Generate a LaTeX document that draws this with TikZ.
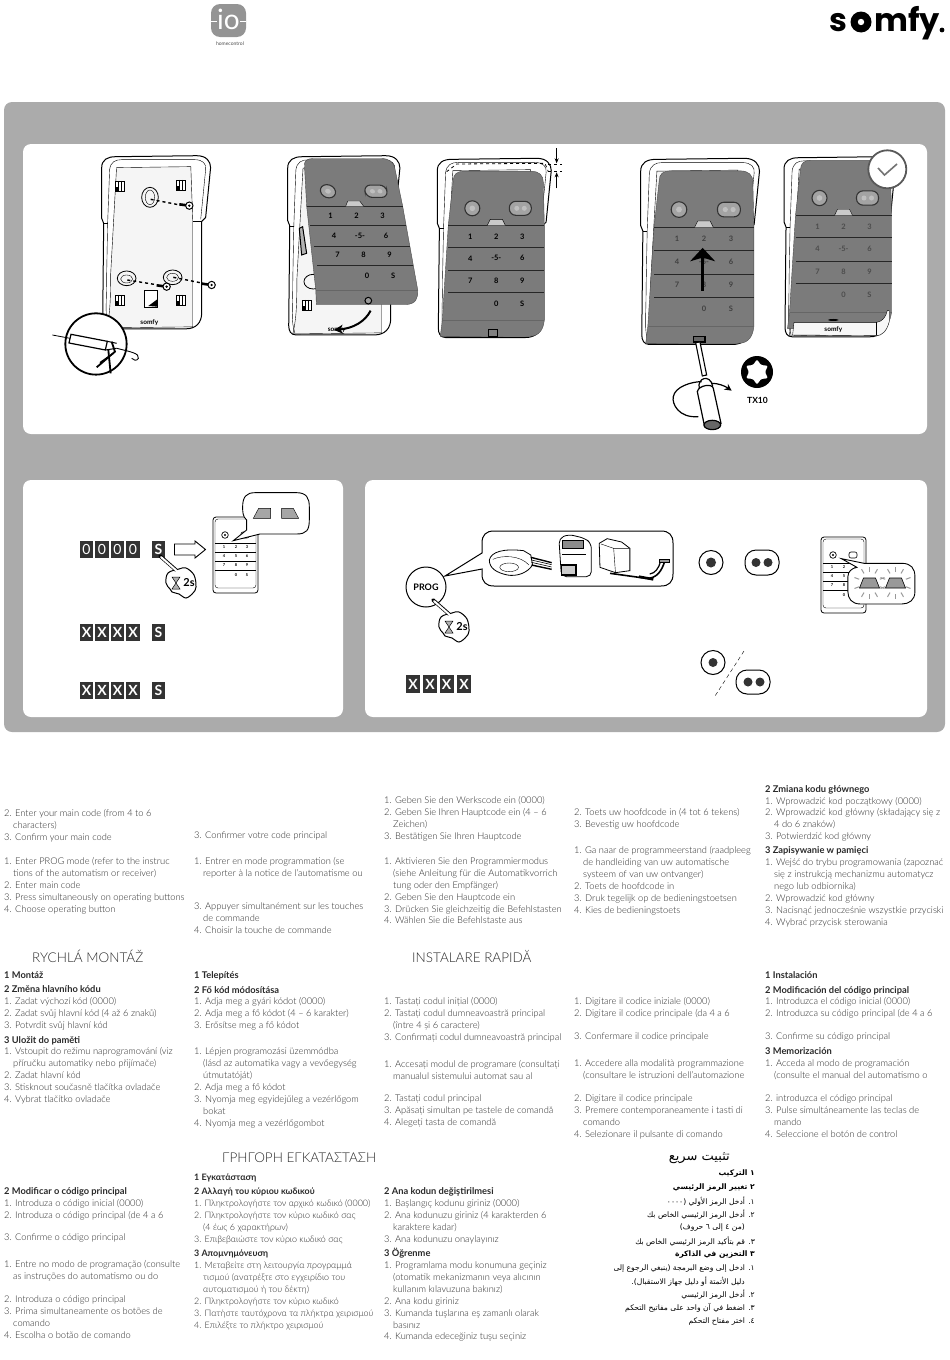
\documentclass[tikz,border=0pt]{standalone}
\usepackage{fontspec}
\usepackage{xcolor}
\setmainfont{Lato}[UprightFont=* Light,BoldFont=* Bold]
\newfontfamily\plainfont{Lato}
\newfontfamily\logofont{Poppins}
\newfontfamily\arabicfont[Script=Arabic]{DejaVu Sans}
\TeXXeTstate=1
\usetikzlibrary{arrows.meta,positioning,shapes.geometric}
\definecolor{framegray}{HTML}{ABABAB}
\definecolor{padgray}{HTML}{7B7B7B}
\definecolor{capblack}{HTML}{333333}
\definecolor{bodytext}{HTML}{2A2A2A}
\newcommand{\hg}{\hspace*{9pt}}
\newcommand{\ar}[1]{\beginR #1\endR}

\tikzset{
  txt/.style={anchor=north west,inner sep=0pt,yshift=-1pt,align=left,text=bodytext,
    font=\fontsize{9.3}{11.9}\selectfont},
  ttl/.style={anchor=west,inner sep=0pt,text=bodytext,font=\fontsize{13.5}{15}\selectfont},
  artxt/.style={anchor=east,inner sep=0pt,text=black,font=\arabicfont\fontsize{7.6}{9}\selectfont},
  keycap/.style={fill=capblack,text=white,inner sep=0pt,minimum width=13.5pt,minimum height=17pt,
    font=\plainfont\bfseries\fontsize{14}{14}\selectfont},
  zoomsix/.style={shift={(20,140)},x=.3333pt,y=-.3333pt},
  zoomseven/.style={shift={(430,140)},x=.3333pt,y=-.3333pt},
  zoomeight/.style={shift={(20,480)},x=.3333pt,y=-.3333pt},
  zoomnine/.style={shift={(365,480)},x=.36036pt,y=-.3333pt},
  pics/lug/.style={code={
    \draw[thick,fill=white] (-14,-15) rectangle (14,15);
    \draw (-5,-15) -- (-5,15) (5,-15) -- (5,15);
    \fill (-14,4) rectangle (-5,15);
  }},
  pics/housing/.style={code={
    \draw[line width=1pt,fill=white] (0,12) .. controls (0,4) and (6,1) .. (14,1) -- (96,0)
      .. controls (106,0) and (110,6) .. (110,12) -- (105,62) -- (101,66) -- (101,158)
      .. controls (101,168) and (95,174) .. (85,174) -- (8,174)
      .. controls (3,174) and (1,170) .. (1,165) -- (2,68) -- (0,63) -- cycle;
    \draw[fill=black!4] (15,12) -- (90,11) -- (92,66) -- (92,172) -- (5,173)
      .. controls (8,160) and (9,150) .. (9,120) -- cycle;
    \draw (7,172) .. controls (3,160) and (5,150) .. (5,120) -- (6,68) -- (8,14)
      .. controls (9,6) and (14,4) .. (20,4) -- (94,4) .. controls (102,4) and (106,8) .. (105,14) -- (100,64);
    \draw (92,66) -- (101,66) (2,68) -- (6,68);
  }},
  pics/keypad/.style={code={
    \fill[padgray,draw=black!70] (16,22) .. controls (16,16) and (20,13) .. (26,13) -- (94,13)
      .. controls (102,13) and (106,17) .. (106,24) -- (107,67) -- (107,162)
      .. controls (106,170) and (103,178) .. (92,178) -- (3,178) -- (5,162) -- (11,67) -- cycle;
    \foreach \rowy in {67,89,112,134} \draw[line width=1.1pt,black!85] (11,\rowy) -- (107,\rowy);
    \draw[black!60] (5,162) -- (107,162);
    \draw[line width=1.1pt,black!80,fill=padgray!70] (35,50) circle (7.5);
    \fill[white!75!black] (35,50) circle (2.8);
    \draw[line width=1.1pt,black!80,fill=padgray!70,rounded corners=6.5pt] (72,43) rectangle (94,57);
    \fill[white!75!black] (79.5,50) circle (2.5) (87,50) circle (2.5);
    \draw[fill=padgray!40] (50,67) -- (53,61) -- (65,61) -- (68,67);
    \foreach \keyx/\keyy/\keyt in {33/78/1,59/78/2,85/78/3,33/100/4,59/100/{-5-},85/100/6,
        33/122/7,59/122/8,85/122/9,59/145/0,85/145/S}
      \node[text=#1,inner sep=0pt,font=\plainfont\bfseries\fontsize{7.5}{8}\selectfont] (k\keyt) at (\keyx,\keyy) {\keyt};
  }},
  pics/minidev/.style={code={
    \draw[line width=.8pt,fill=white,rounded corners=3pt] (0,0) rectangle (45,76);
    \draw[rounded corners=3pt] (2,2) rectangle (43,71);
    \draw[line width=.7pt] (12,18) circle (3.3);
    \fill (12,18) circle (1.1);
    \draw[line width=.6pt,rounded corners=2pt] (28,15) rectangle (36,21);
    \foreach \rowy in {26,35,44,53} \draw[line width=.7pt] (2,\rowy) -- (43,\rowy);
    \foreach \keyx/\keyy/\keyt in {11/30/1,23/30/2,34/30/3,11/39/4,23/39/5,34/39/6,11/48/7,23/48/8,34/48/9,23/58/0,34/58/S}
      \node[inner sep=0pt,font=\plainfont\bfseries\fontsize{4}{4}\selectfont] (m\keyt) at (\keyx,\keyy) {\keyt};
  }},
  pics/holdhand/.style={code={
    \draw[line width=1pt,fill=white] plot[smooth cycle,tension=.6] coordinates {(8,17) (6,27) (10,33) (12,36) (19,38)
      (26,42) (33,37) (36,31) (34,19) (26,12) (19,13)};
    \draw[line width=3.6pt,line cap=round] (0,0) -- (16,14);
    \draw[line width=2pt,white,line cap=round] (1,1) -- (18,16);
    \draw[fill=black!30,line width=.5pt] (12,21) -- (20,21) -- (12,33) -- (20,33) -- cycle;
    \node[inner sep=0pt,font=\plainfont\bfseries\fontsize{11}{11}\selectfont] (twos) at (29,27) {2s};
  }},
  pics/flashtrap/.style={code={
    \foreach \ang in {20,60,90,120,160,200,240,270,300,340}
      \draw[line width=1pt,black!40] (\ang:11) -- (\ang:16);
    \draw[fill=black!40,line width=.6pt] (-10,5) -- (-6,-5) -- (6,-5) -- (10,5) -- cycle;
  }}
}

\begin{document}
\begin{tikzpicture}[x=1pt,y=-1pt]
\useasboundingbox (0,0) rectangle (950,1360);

% logos
\fill[black!42,rounded corners=9pt] (211,4) rectangle (246,37);
\node[text=white,inner sep=0pt,font=\plainfont\fontsize{28}{28}\selectfont] (iomark) at (228.5,19) {io};
\draw[white] (211,21) -- (217,21) (240,21) -- (246,21);
\node[inner sep=0pt,text=black!70,font=\plainfont\fontsize{5}{5}\selectfont] (homectl) at (230,44) {homecontrol};
\node[anchor=base west,inner sep=0pt,font=\logofont\bfseries\fontsize{32}{32}\selectfont] (somfys) at (829,31.5) {s};
\fill (861,22) circle (10.5);
\fill[white] (861,22) circle (3.2);
\node[anchor=base west,inner sep=0pt,font=\logofont\bfseries\fontsize{32}{32}\selectfont] (somfyt) at (874,31.5) {mfy};
\fill (942,30) circle (2.4);

% panels
\fill[framegray,rounded corners=8pt] (4,102) rectangle (945,732);
\fill[white,rounded corners=8pt] (23,144) rectangle (927,434);
\fill[white,rounded corners=8pt] (23,480) rectangle (343,717);
\fill[white,rounded corners=8pt] (365,480) rectangle (927,717);

% wall plate
\pic[xscale=.99,yscale=.995] at (101.7,155.7) {housing};
\begin{scope}[zoomsix]
  \foreach \lugx/\lugy in {300/138,482/135,300/480,482/480}
    \pic at (\lugx,\lugy) {lug};
  \draw[thick] (390,172) ellipse (25 and 30) (320,415) ellipse (28 and 22) (458,412) ellipse (28 and 22);
  \draw (390,172) ellipse (14 and 22) (320,417) ellipse (18 and 12) (458,412) ellipse (18 and 12);
  \draw[line width=1.4pt,dashed] (392,178) -- (480,195);
  \draw[line width=1.4pt,dashed] (322,420) -- (415,435);
  \draw[line width=1.4pt,dashed] (460,412) -- (550,430);
  \foreach \scrx/\scry in {508/197,440/440,575/435}{
    \draw[line width=2.6pt] (\scrx-30,\scry-4) -- (\scrx,\scry);
    \draw[line width=1pt,fill=white] (\scrx,\scry) circle (11);
    \fill (\scrx,\scry) circle (4);
  }
  \draw[fill=white] (373,452) rectangle (413,503);
  \fill (385,498) -- (412,478) -- (412,500) -- cycle;
  \node[inner sep=0pt,font=\plainfont\bfseries\fontsize{6.5}{7}\selectfont] (plateso) at (388,548) {somfy};
  % sealant gun
  \draw[line width=1.8pt,fill=white] (228,612) circle (92);
  \draw[line width=.8pt] (97,585) -- (150,595);
  \draw[line width=1.2pt,fill=white] (153,583) -- (262,604) -- (256,630) -- (147,609) -- cycle;
  \draw[line width=1pt] (262,604) -- (290,610) (256,630) -- (290,625);
  \draw[line width=1.8pt] (275,605) -- (285,635) -- (230,682);
  \draw[line width=1.8pt] (265,630) -- (272,700);
  \draw[line width=1.4pt] (280,640) -- (240,668);
  \draw[line width=.9pt] (290,625) .. controls (330,635) and (360,640) .. (355,655) .. controls (350,665) and (340,660) .. (335,655);
\end{scope}

% tilted keypad
\pic[xscale=1.02,yscale=1.03] at (287.7,155.7) {housing};
\begin{scope}[zoomsix]
  \pic at (860,495) {lug};
  \draw[thick] (880,425) ellipse (28 and 22);
  \draw[line width=1pt,fill=black!30] (848,260) -- (860,340) -- (845,345) -- (838,265) -- cycle;
  \node[inner sep=0pt,font=\plainfont\bfseries\fontsize{6.5}{7}\selectfont] (tiltso) at (950,568) {somfy};
\end{scope}
\pic[xslant=-.18,yscale=.885] at (285,147) {keypad=black};
\begin{scope}[zoomsix]
  \draw[line width=1pt,fill=black!40] (1045,482) circle (10);
  \draw[line width=2pt,-{Stealth[length=9pt,width=9pt]}] (1052,512) .. controls (1035,545) and (1000,565) .. (942,570);
\end{scope}

% seated keypad with gap marks
\pic[xscale=1.036,yscale=1.03] at (437.3,158.3) {housing};
\pic at (437.3,158.3) {keypad=black};
\begin{scope}[zoomseven]
  \draw[line width=.8pt,dashed] (50,95) -- (80,72) -- (345,70) -- (355,95);
  \draw[line width=.7pt,dashed] (355,72) -- (396,72) (355,95) -- (396,95);
  \draw[line width=1pt,-{Stealth[length=5pt,width=4pt]}] (380,25) -- (380,70);
  \draw[line width=1pt,-{Stealth[length=5pt,width=4pt]}] (380,145) -- (380,97);
  \draw[line width=1.4pt,fill=black!50] (175,568) rectangle (202,590);
\end{scope}

% screw tightening
\pic[xscale=1.08,yscale=1.07] at (640.7,158.3) {housing};
\pic[xscale=1.04,yscale=1.045] at (642.6,157.3) {keypad={black!75}};
\begin{scope}[zoomseven]
  \draw[line width=3.4pt,white] (818,452) -- (818,345);
  \draw[line width=3pt] (818,452) -- (818,345);
  \draw[line width=2pt,fill=black] (790,358) -- (818,328) -- (846,358) -- (826,352) -- (810,352) -- cycle;
  \draw[line width=1.2pt,fill=black!60] (790,590) rectangle (825,606);
  \draw[line width=1.1pt,fill=white] (797,608) -- (810,606) -- (830,705) -- (817,708) -- cycle;
  \draw[line width=1.2pt] (848,738) .. controls (840,700) and (800,715) .. (808,745);
  \draw[line width=1.2pt] (805,830) .. controls (745,835) and (725,790) .. (730,770)
    .. controls (735,740) and (785,725) .. (815,725);
  \draw[line width=1.2pt,fill=white] (802,755) .. controls (806,735) and (848,730) .. (850,745) -- (873,850) -- (824,860) -- cycle;
  \draw[line width=1.2pt,fill=black!60] (847,855) ellipse (25 and 14);
  \draw[line width=1.2pt,-{Stealth[length=7pt,width=7pt]}] (846,730) .. controls (865,730) and (885,738) .. (905,752);
\end{scope}
\fill (757,372) circle (16);
\node[star,star points=6,star point ratio=1.55,fill=white,minimum size=25pt,inner sep=0pt,rounded corners=1.2pt] (torx) at (757,372) {};
\node[inner sep=0pt,font=\plainfont\bfseries\fontsize{8.5}{9}\selectfont] (txten) at (757.5,400) {TX10};

% finished
\pic[xscale=1.01,yscale=1.035] at (784,156.7) {housing};
\pic[xscale=1.0,yscale=1.02] at (784.5,147) {keypad={black!70}};
\begin{scope}[zoomseven]
  \draw[fill=black!3] (1088,585) -- (1092,547) -- (1340,547) .. controls (1358,545) and (1368,530) .. (1372,512)
    -- (1378,512) -- (1378,545) .. controls (1370,575) and (1355,587) .. (1340,587) -- cycle;
  \node[inner sep=0pt,font=\plainfont\bfseries\fontsize{6.5}{7}\selectfont] (doneso) at (1210,568) {somfy};
  \draw (1340,547) -- (1340,585);
  \fill (1210,540) ellipse (16 and 3);
\end{scope}
\draw[line width=1.8pt,fill=white,draw=black!65] (887.3,169.3) circle (19);
\draw[line width=1.6pt,black!55] (878,168) -- (884.5,175) -- (897,164);

% code keys, left panel
\foreach \capx/\capt [count=\capn] in {86.5/0,102/0,117.5/0,133/0}
  \node[keycap,font=\plainfont\fontsize{14}{14}\selectfont] (za\capn) at (\capx,549.5) {\capt};
\node[keycap] (zs) at (158.5,549.5) {S};
\foreach \capx/\capt [count=\capn] in {86.5/X,102/X,117.5/X,133/X,158.5/S}{
  \node[keycap] (xa\capn) at (\capx,632.5) {\capt};
  \node[keycap] (xb\capn) at (\capx,690) {\capt};
}
\pic at (160,556) {holdhand};
\draw[line width=.9pt,fill=white] (174.5,544) -- (195,544) -- (195,541) -- (205.5,549.5) -- (195,558) -- (195,555) -- (174.5,555) -- cycle;
\pic at (213,517) {minidev};
\begin{scope}[zoomeight]
  \draw[line width=.9pt,fill=white] (720,162) -- (640,182) -- (680,150) -- (680,120)
    .. controls (668,110) and (668,95) .. (668,80) .. controls (668,50) and (680,38) .. (705,38)
    -- (830,38) .. controls (860,38) and (868,55) .. (868,80) -- (868,120) .. controls (868,150) and (860,162) .. (830,162) -- cycle;
  \draw[fill=black!35] (700,115) -- (716,85) -- (752,85) -- (752,115) -- cycle;
  \draw[fill=black!35] (785,85) -- (820,85) -- (836,115) -- (785,115) -- cycle;
\end{scope}

% right panel
\draw[line width=1pt,fill=white] (482,569) -- (445,576) -- (482,553) -- (482,543)
  .. controls (482,535) and (486,531) .. (494,531) -- (661,531) .. controls (669,531) and (673,535) .. (673,543)
  -- (673,574) .. controls (673,582) and (669,586) .. (661,586) -- (494,586) .. controls (486,586) and (482,582) .. (482,574) -- cycle;
\begin{scope}[zoomnine]
  % ceiling opener
  \draw[thick,fill=white] (345,240) .. controls (350,215) and (385,205) .. (440,212) -- (460,225) -- (465,255)
    .. controls (450,280) and (420,290) .. (395,285) .. controls (365,278) and (345,265) .. (345,240) -- cycle;
  \draw (400,262) ellipse (26 and 13);
  \draw (355,238) .. controls (380,225) and (430,225) .. (455,255);
  \draw[line width=1.4pt] (460,232) -- (518,248) (462,255) -- (518,268);
  \draw[line width=.6pt] (462,240) -- (518,254) (462,247) -- (518,261);
  % swing motor
  \draw[thick,fill=white,rounded corners=5pt] (538,175) -- (565,163) -- (610,175) -- (628,190) -- (628,290) -- (545,290) -- cycle;
  \draw[thick,fill=black!45] (548,182) rectangle (606,205);
  \draw[line width=1.4pt,fill=black!20] (545,255) rectangle (585,285);
  \draw (548,222) -- (612,222);
  % gate motor
  \draw[thick,fill=white] (650,190) -- (672,176) -- (712,186) -- (735,205) -- (735,272) -- (695,278) -- (652,262) -- cycle;
  \draw (655,192) -- (690,205) -- (732,205) (690,205) -- (695,278);
  \draw[line width=1.6pt] (680,280) -- (780,295) .. controls (810,297) and (825,270) .. (832,242);
  \draw[line width=2.6pt] (760,290) -- (800,298);
  \draw[line width=1.2pt] (790,282) .. controls (805,280) and (815,265) .. (820,245);
  \draw[line width=1pt,fill=black!40] (818,238) rectangle (844,248);
\end{scope}
\node[circle,draw,line width=1pt,fill=white,minimum size=40pt,inner sep=0pt,font=\plainfont\bfseries\fontsize{9}{9}\selectfont] (prog) at (426,587) {PROG};
\pic at (433,600) {holdhand};
\foreach \capx [count=\capn] in {413,430,446.5,464}
  \node[keycap,minimum width=14pt,minimum height=18pt] (xc\capn) at (\capx,684) {X};

% leds
\draw[line width=1pt] (711,562.5) circle (12);
\fill[black!80] (711,562.5) circle (5);
\draw[line width=1pt,rounded corners=11pt] (745,550) rectangle (779,575);
\fill[black!80] (756,562.5) circle (4.5) (768,562.5) circle (4.5);
\draw[line width=1pt] (713,662.5) circle (12);
\fill[black!80] (713,662.5) circle (4.5);
\draw[line width=1pt,rounded corners=11pt] (736,670) rectangle (770,694);
\fill[black!80] (748,682) circle (4.5) (760,682) circle (4.5);
\coordinate (dashtop) at (744,651);
\coordinate (dashbot) at (715,696);
\draw[dash pattern=on 4pt off 3pt] (dashtop) -- (dashbot);

% flashing device
\pic at (821,537) {minidev};
\begin{scope}[zoomnine]
  \draw[line width=.9pt,fill=white] (1365,262) -- (1322,236) -- (1385,250) -- (1490,250)
    .. controls (1515,250) and (1526,265) .. (1526,290) -- (1526,335) .. controls (1526,360) and (1510,372) .. (1490,372)
    -- (1375,372) .. controls (1350,372) and (1340,355) .. (1340,335) -- (1340,290) .. controls (1340,275) and (1350,265) .. (1365,262) -- cycle;
\end{scope}
\pic at (869.5,583) {flashtrap};
\pic at (895.5,583) {flashtrap};

% text, first row
\node[txt] (engb) at (4,808) {2. Enter your main code (from 4 to 6\\ \hg characters)\\3. Confirm your main code};
\node[txt] (engc) at (4,856.5) {1. Enter PROG mode (refer to the instruc\\ \hg tions of the automatism or receiver)\\2. Enter main code\\3. Press simultaneously on operating buttons\\4. Choose operating button};
\node[txt] (frgb) at (194,830.5) {3. Confirmer votre code principal};
\node[txt] (frgc) at (194,856.5) {1. Entrer en mode programmation (se\\ \hg reporter à la notice de l'automatisme ou};
\node[txt] (frgd) at (194,902) {3. Appuyer simultanément sur les touches\\ \hg de commande\\4. Choisir la touche de commande};
\node[txt] (degb) at (384,795.5) {1. Geben Sie den Werkscode ein (0000)\\2. Geben Sie Ihren Hauptcode ein (4 – 6\\ \hg Zeichen)\\3. Bestätigen Sie Ihren Hauptcode};
\node[txt] (degc) at (384,856.5) {1. Aktivieren Sie den Programmiermodus\\ \hg (siehe Anleitung für die Automatikvorrich\\ \hg tung oder den Empfänger)\\2. Geben Sie den Hauptcode ein\\3. Drücken Sie gleichzeitig die Befehlstasten\\4. Wählen Sie die Befehlstaste aus};
\node[txt] (nlgb) at (574,807.5) {2. Toets uw hoofdcode in (4 tot 6 tekens)\\3. Bevestig uw hoofdcode};
\node[txt] (nlgc) at (574,845.5) {1. Ga naar de programmeerstand (raadpleeg\\ \hg de handleiding van uw automatische\\ \hg systeem of van uw ontvanger)\\2. Toets de hoofdcode in\\3. Druk tegelijk op de bedieningstoetsen\\4. Kies de bedieningstoets};
\node[txt] (plgb) at (765,784) {\textbf{2 Zmiana kodu głównego}\\1. Wprowadzić kod początkowy (0000)\\2. Wprowadzić kod główny (składający się z\\ \hg 4 do 6 znaków)\\3. Potwierdzić kod główny};
\node[txt] (plgc) at (765,845.5) {\textbf{3 Zapisywanie w pamięci}\\1. Wejść do trybu programowania (zapoznać\\ \hg się z instrukcją mechanizmu automatycz\\ \hg nego lub odbiornika)\\2. Wprowadzić kod główny\\3. Nacisnąć jednocześnie wszystkie przyciski\\4. Wybrać przycisk sterowania};

% text, second row
\node[ttl] (csttl) at (32,956.5) {RYCHLÁ MONTÁŽ};
\node[ttl] (rottl) at (412,956.5) {INSTALARE RAPIDĂ};
\node[txt] (csga) at (4,970.5) {\textbf{1 Montáž}\\[2.5pt]\textbf{2 Změna hlavního kódu}\\1. Zadat výchozí kód (0000)\\2. Zadat svůj hlavní kód (4 až 6 znaků)\\3. Potvrdit svůj hlavní kód\\[2.5pt]\textbf{3 Uložit do paměti}\\1. Vstoupit do režimu naprogramování (viz\\ \hg příručku automatiky nebo přijímače)\\2. Zadat hlavní kód\\3. Stisknout současně tlačítka ovladače\\4. Vybrat tlačítko ovladače};
\node[txt] (huga) at (194,970.5) {\textbf{1 Telepítés}\\[2.5pt]\textbf{2 Fő kód módosítása}\\1. Adja meg a gyári kódot (0000)\\2. Adja meg a fő kódot (4 – 6 karakter)\\3. Erősítse meg a fő kódot};
\node[txt] (hugb) at (194,1047) {1. Lépjen programozási üzemmódba\\ \hg (lásd az automatika vagy a vevőegység\\ \hg útmutatóját)\\2. Adja meg a fő kódot\\3. Nyomja meg egyidejűleg a vezérlőgom\\ \hg bokat\\4. Nyomja meg a vezérlőgombot};
\node[txt] (roga) at (384,996.5) {1. Tastați codul inițial (0000)\\2. Tastați codul dumneavoastră principal\\ \hg (între 4 și 6 caractere)\\3. Confirmați codul dumneavoastră principal};
\node[txt] (rogb) at (384,1059) {1. Accesați modul de programare (consultați\\ \hg manualul sistemului automat sau al};
\node[txt] (rogc) at (384,1093.5) {2. Tastați codul principal\\3. Apăsați simultan pe tastele de comandă\\4. Alegeți tasta de comandă};
\node[txt] (itga) at (574,996.5) {1. Digitare il codice iniziale (0000)\\2. Digitare il codice principale (da 4 a 6};
\node[txt] (itgb) at (574,1032) {3. Confermare il codice principale};
\node[txt] (itgc) at (574,1059) {1. Accedere alla modalità programmazione\\ \hg (consultare le istruzioni dell'automazione};
\node[txt] (itgd) at (574,1093.5) {2. Digitare il codice principale\\3. Premere contemporaneamente i tasti di\\ \hg comando\\4. Selezionare il pulsante di comando};
\node[txt] (esga) at (765,970.5) {\textbf{1 Instalación}\\[2.5pt]\textbf{2 Modificación del código principal}\\1. Introduzca el código inicial (0000)\\2. Introduzca su código principal (de 4 a 6};
\node[txt] (esgb) at (765,1032) {3. Confirme su código principal\\[2.5pt]\textbf{3 Memorización}\\1. Acceda al modo de programación\\ \hg (consulte el manual del automatismo o};
\node[txt] (esgc) at (765,1093.5) {2. introduzca el código principal\\3. Pulse simultáneamente las teclas de\\ \hg mando\\4. Seleccione el botón de control};

% text, third row
\node[ttl] (elttl) at (222,1158) {ΓΡΗΓΟΡΗ ΕΓΚΑΤΑΣΤΑΣΗ};
\node[txt] (ptga) at (4,1186.5) {\textbf{2 Modificar o código principal}\\1. Introduza o código inicial (0000)\\2. Introduza o código principal (de 4 a 6};
\node[txt] (ptgb) at (4,1232.5) {3. Confirme o código principal};
\node[txt] (ptgc) at (4,1259.5) {1. Entre no modo de programação (consulte\\ \hg as instruções do automatismo ou do};
\node[txt] (ptgd) at (4,1294.5) {2. Introduza o código principal\\3. Prima simultaneamente os botões de\\ \hg comando\\4. Escolha o botão de comando};
\node[txt,font=\fontsize{8.9}{11.9}\selectfont] (elga) at (194,1172.5) {\textbf{1 Εγκατάσταση}\\[2.5pt]\textbf{2 Αλλαγή του κύριου κωδικού}\\1. Πληκτρολογήστε τον αρχικό κωδικό (0000)\\2. Πληκτρολογήστε τον κύριο κωδικό σας\\ \hg (4 έως 6 χαρακτήρων)\\3. Επιβεβαιώστε τον κύριο κωδικό σας\\[2.5pt]\textbf{3 Απομνημόνευση}\\1. Μεταβείτε στη λειτουργία προγραμμά\\ \hg τισμού (ανατρέξτε στο εγχειρίδιο του\\ \hg αυτοματισμού ή του δέκτη)\\2. Πληκτρολογήστε τον κύριο κωδικό\\3. Πατήστε ταυτόχρονα τα πλήκτρα χειρισμού\\4. Επιλέξτε το πλήκτρο χειρισμού};
\node[txt] (trga) at (384,1186.5) {\textbf{2 Ana kodun değiştirilmesi}\\1. Başlangıç kodunu giriniz (0000)\\2. Ana kodunuzu giriniz (4 karakterden 6\\ \hg karaktere kadar)\\3. Ana kodunuzu onaylayınız\\[2.5pt]\textbf{3 Öğrenme}\\1. Programlama modu konumuna geçiniz\\ \hg (otomatik mekanizmanın veya alıcının\\ \hg kullanım kılavuzuna bakınız)\\2. Ana kodu giriniz\\3. Kumanda tuşlarına eş zamanlı olarak\\ \hg basınız\\4. Kumanda edeceğiniz tuşu seçiniz};

% arabic column
\node[artxt,font=\arabicfont\fontsize{13}{14}\selectfont] (arttl) at (730,1158) {\ar{تثبيت سريع}};
\node[artxt,font=\arabicfont\bfseries\fontsize{7.6}{9}\selectfont] (ara) at (755,1174) {\ar{١ التركيب}};
\node[artxt,font=\arabicfont\bfseries\fontsize{7.6}{9}\selectfont] (arb) at (755,1188) {\ar{٢ تغيير الرمز الرئيسي}};
\node[artxt] (arc) at (755,1202) {\ar{١. أدخل الرمز الأولي (٠٠٠٠}};
\node[artxt] (ard) at (755,1215) {\ar{٢. أدخل الرمز الرئيسي الخاص بك}};
\node[artxt] (are) at (745,1228) {\ar{(من ٤ إلى ٦ حروف)}};
\node[artxt] (arf) at (755,1242) {\ar{٣. قم بتأكيد الرمز الرئيسي الخاص بك}};
\node[artxt,font=\arabicfont\bfseries\fontsize{7.6}{9}\selectfont] (arg) at (755,1255) {\ar{٣ التخزين في الذاكرة}};
\node[artxt] (arh) at (755,1269) {\ar{١. ادخل إلى وضع البرمجة (ينبغي الرجوع إلى}};
\node[artxt] (ari) at (745,1282) {\ar{دليل الأتمتة أو دليل جهاز الاستقبال).}};
\node[artxt] (arj) at (755,1295) {\ar{٢. أدخل الرمز الرئيسي}};
\node[artxt] (ark) at (755,1308) {\ar{٣. اضغط في آن واحد على مفاتيح التحكم}};
\node[artxt] (arl) at (755,1322) {\ar{٤. اختر مفتاح التحكم}};
\end{tikzpicture}
\end{document}
